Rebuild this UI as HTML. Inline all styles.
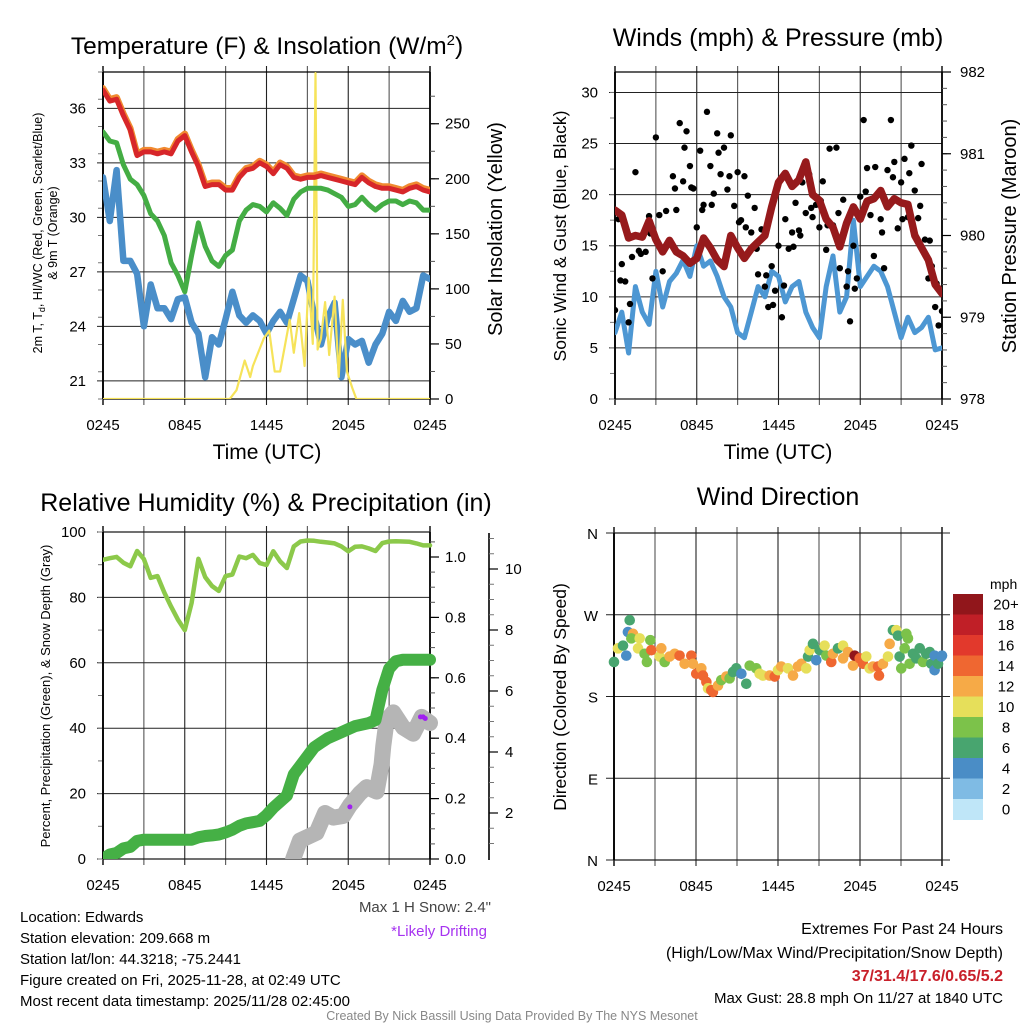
<!DOCTYPE html>
<html><head><meta charset="utf-8"><title>Mesonet station chart</title>
<style>
html,body{margin:0;padding:0;background:#fff;}
svg{display:block;font-family:"Liberation Sans",Arial,sans-serif;}
</style></head>
<body>
<svg id="fig" width="1024" height="1024" viewBox="0 0 1024 1024" xmlns="http://www.w3.org/2000/svg">
<rect width="1024" height="1024" fill="#fff"/>
<defs>
<clipPath id="c1"><rect x="103" y="72" width="327" height="327"/></clipPath>
<clipPath id="c2"><rect x="615" y="72" width="327" height="327"/></clipPath>
<clipPath id="c3"><rect x="103" y="532" width="340" height="327"/></clipPath>
</defs>
<text x="267" y="54" font-size="24.5" text-anchor="middle">Temperature (F) &amp; Insolation (W/m<tspan dy="-9" font-size="15">2</tspan><tspan dy="9">)</tspan></text>
<text x="778" y="46" font-size="25" text-anchor="middle">Winds (mph) &amp; Pressure (mb)</text>
<text x="266" y="511" font-size="25" text-anchor="middle">Relative Humidity (%) &amp; Precipitation (in)</text>
<text x="778" y="505" font-size="25" text-anchor="middle">Wind Direction</text>

<g font-size="12.5">
<text transform="translate(42,233) rotate(-90)" text-anchor="middle">2m T, T<tspan font-size="9" dy="3">d</tspan><tspan dy="-3">, HI/WC (Red, Green, Scarlet/Blue)</tspan></text>
<text transform="translate(57,233) rotate(-90)" text-anchor="middle">&amp; 9m T (Orange)</text>
</g>
<text transform="translate(502,229) rotate(-90)" font-size="20" text-anchor="middle">Solar Insolation (Yellow)</text>
<text transform="translate(566,236) rotate(-90)" font-size="17.5" text-anchor="middle">Sonic Wind &amp; Gust (Blue, Black)</text>
<text transform="translate(1016,236) rotate(-90)" font-size="20" text-anchor="middle">Station Pressure (Maroon)</text>
<text transform="translate(50,696) rotate(-90)" font-size="13" text-anchor="middle">Percent, Precipitation (Green), &amp; Snow Depth (Gray)</text>
<text transform="translate(566,697) rotate(-90)" font-size="17.5" text-anchor="middle">Direction (Colored By Speed)</text>
<text x="267" y="459" font-size="21" text-anchor="middle">Time (UTC)</text>
<text x="778" y="459" font-size="21" text-anchor="middle">Time (UTC)</text>

<g font-size="15">
<text x="20" y="922">Location: Edwards</text>
<text x="20" y="943">Station elevation: 209.668 m</text>
<text x="20" y="964">Station lat/lon: 44.3218; -75.2441</text>
<text x="20" y="985">Figure created on Fri, 2025-11-28, at 02:49 UTC</text>
<text x="20" y="1006">Most recent data timestamp: 2025/11/28 02:45:00</text>
</g>
<text x="491" y="912" font-size="15" fill="#444" text-anchor="end">Max 1 H Snow: 2.4"</text>
<text x="487" y="936" font-size="15" fill="#a633f0" text-anchor="end">*Likely Drifting</text>
<g font-size="16" text-anchor="end">
<text x="1003" y="934">Extremes For Past 24 Hours</text>
<text x="1003" y="958">(High/Low/Max Wind/Precipitation/Snow Depth)</text>
<text x="1003" y="981" font-weight="bold" fill="#c8202a">37/31.4/17.6/0.65/5.2</text>
<text x="1003" y="1003" font-size="15">Max Gust: 28.8 mph On 11/27 at 1840 UTC</text>
</g>
<text x="512" y="1020" font-size="12.5" fill="#888" text-anchor="middle">Created By Nick Bassill Using Data Provided By The NYS Mesonet</text>
<g id="layer"></g>
</svg>
<script>
const hours = [0,0.5,1,1.5,2,2.5,3,3.5,4,4.5,5,5.5,6,6.5,7,7.5,8,8.5,9,9.5,10,10.5,11,11.5,12,12.5,13,13.5,14,14.5,15,15.5,16,16.5,17,17.5,18,18.5,19,19.5,20,20.5,21,21.5,22,22.5,23,23.5,24];
const timeLabels = ["0245","0845","1445","2045","0245"];
const tempTicks = [21,24,27,30,33,36];
const solarTicks = [0,50,100,150,200,250];
const windTicks = [0,5,10,15,20,25,30];
const pressTicks = [978,979,980,981,982];
const rhTicks = [0,20,40,60,80,100];
const precipTicks = [0.0,0.2,0.4,0.6,0.8,1.0];
const snowTicks = [2,4,6,8,10];
const dirTicks = ["N","E","S","W","N"];
const dirTickDeg = [0,90,180,270,360];
const airTemp = [37.0,36.4,36.5,35.6,34.8,33.4,33.6,33.6,33.5,33.6,33.5,34.2,34.5,33.6,32.8,31.7,31.8,31.8,31.5,31.5,32.2,32.6,32.7,33.0,32.8,32.4,32.9,32.7,32.2,32.1,32.2,32.2,32.3,32.2,32.1,32.0,31.9,31.8,32.2,31.9,31.7,31.6,31.6,31.5,31.4,31.6,31.7,31.5,31.4];
const temp9m = [37.1,36.5,36.6,35.7,34.9,33.5,33.7,33.7,33.6,33.7,33.6,34.3,34.6,33.7,32.9,31.8,31.9,31.9,31.6,31.6,32.3,32.7,32.8,33.1,32.9,32.5,33.0,32.8,32.3,32.2,32.3,32.3,32.4,32.3,32.2,32.1,32.0,31.9,32.3,32.0,31.8,31.7,31.7,31.6,31.5,31.7,31.8,31.6,31.5];
const dewPoint = [34.7,34.2,34.1,32.9,32.1,31.8,31.2,30.2,29.8,29.0,27.5,26.8,25.9,27.9,29.7,28.4,27.6,27.3,27.9,28.2,29.8,30.4,30.7,30.6,30.3,30.8,30.5,30.1,31.0,31.4,31.6,31.6,31.6,31.5,31.3,31.1,30.6,30.7,31.1,30.7,30.4,30.7,30.9,30.9,30.7,30.9,30.8,30.4,30.4];
const windChill = [32.2,29.8,32.6,27.6,27.6,26.9,24.0,26.3,25.0,25.0,24.4,25.5,25.6,24.2,23.6,21.2,23.4,23.0,24.4,25.9,24.6,24.2,24.6,24.3,23.6,24.3,24.8,24.2,25.5,26.8,26.5,24.6,23.0,24.5,25.3,21.2,23.3,23.0,23.2,22.0,23.0,23.6,24.8,24.3,25.4,24.8,25.0,26.8,26.6];
const solarHours = [0,9.3,9.8,10.4,10.8,11.0,11.8,12.2,12.6,13.0,13.3,13.7,14.0,14.4,14.8,15.1,15.4,15.6,15.75,16.0,16.3,16.6,17.0,17.3,17.6,17.9,18.3,18.6,24];
const solarVals = [0,0,8,35,20,30,55,62,25,25,45,72,42,78,30,110,50,296,45,55,88,40,93,20,90,25,10,0,0];
const windSpeed = [6.5,8.5,4.5,11.0,8.5,7.3,12.5,9.0,11.5,12.3,13.6,12.0,15.0,13.0,13.5,12.0,10.0,9.0,6.5,6.0,8.5,11.0,10.0,12.5,12.0,9.5,11.0,11.5,8.5,7.0,6.0,11.0,14.0,8.5,10.0,17.5,11.0,12.0,13.0,12.5,11.0,8.5,6.0,8.0,6.5,7.0,8.0,4.8,5.0];
const pressure = [980.31,980.25,979.97,980.0,979.98,980.18,979.95,979.8,979.94,979.8,979.75,979.66,979.72,979.97,979.85,979.7,979.62,980.0,979.85,979.72,979.84,979.92,980.0,980.35,980.65,980.76,980.6,980.68,980.9,980.5,980.43,980.2,980.1,979.86,980.15,980.35,980.2,980.42,980.45,980.55,980.35,980.45,980.4,980.38,980.0,979.85,979.7,979.4,979.29];
const gustHours = [0,0.25,0.5,0.75,1,1.25,1.5,1.75,2,2.25,2.5,2.75,3,3.25,3.5,3.75,4,4.25,4.5,4.75,5,5.25,5.5,5.75,6,6.25,6.5,6.75,7,7.25,7.5,7.75,8,8.25,8.5,8.75,9,9.25,9.5,9.75,10,10.25,10.5,10.75,11,11.25,11.5,11.75,12,12.25,12.5,12.75,13,13.25,13.5,13.75,14,14.25,14.5,14.75,15,15.25,15.5,15.75,16,16.25,16.5,16.75,17,17.25,17.5,17.75,18,18.25,18.5,18.75,19,19.25,19.5,19.75,20,20.25,20.5,20.75,21,21.25,21.5,21.75,22,22.25,22.5,22.75,23,23.25,23.5,23.75,24];
const gustVals = [8.7,17.6,13.2,11.5,7.5,13.9,22.2,14.5,16,14.4,17.9,11.8,25.6,18,12.5,18.4,15.3,21.8,18.5,27,21.3,26.2,22.8,20.6,16.8,24.3,19,28.1,22.8,20.1,26,22,24.6,20.5,25.8,18.9,22.2,17.5,21.8,19.9,16.3,18.7,12.2,16.6,11,9,13,10.6,15,8,17.6,14.7,16.3,19.2,16.5,21.2,18.2,22,17.8,19,16.8,21.3,14.6,24.5,17,24.6,12.8,19.5,11,7.6,15,11.8,19.8,27.3,22.6,18,14,20,17.6,12.8,22.4,27.3,23.2,16.7,21.2,23.5,17.8,24.8,20.4,17.7,23,15.6,11.8,13,9,7.2,8.6];
const gustHours2 = [0.4,1.1,1.9,2.6,3.6,4.4,5.1,5.6,6.4,7.1,7.6,8.4,9.1,9.6,10.4,11.1,11.6,12.4,13.1,13.6,14.4,15.1,15.6,16.4,17.1,17.6,18.4,19.1,19.6,20.4,21.1,21.6,22.4,23.1,23.6];
const gustVals2 = [11.6,9.3,14.2,16.2,14.6,20.6,24.6,20.7,18.5,19.0,24.1,21.8,17.3,16.8,14.7,12.1,9.2,11.1,14.9,16.0,18.7,19.4,17.0,18.2,12.5,10.8,20.3,22.7,16.3,21.7,17.6,22.1,18.9,15.5,11.3];
const rh = [91.5,92,92.4,90.6,89.5,94.2,91.7,86.0,86.5,81.5,77.2,73.2,70.0,78.3,91.8,86.2,83.5,82.0,86.5,87.0,92.5,92.0,93.0,90.5,89.9,94.1,91.0,89.0,95.6,97.1,97.4,97.3,97.0,96.8,96.5,95.6,94.1,95.5,95.6,95.0,94.2,96.6,97.1,97.2,97.1,97.0,96.5,95.9,95.9];
const precip = [0,0.015,0.02,0.035,0.04,0.06,0.064,0.064,0.064,0.064,0.064,0.064,0.064,0.064,0.072,0.076,0.078,0.081,0.088,0.097,0.11,0.118,0.122,0.126,0.145,0.17,0.19,0.21,0.28,0.31,0.34,0.37,0.385,0.40,0.41,0.42,0.43,0.44,0.445,0.45,0.46,0.56,0.63,0.655,0.66,0.66,0.66,0.66,0.66];
const snowHours = [13.96,14.45,14.94,15.67,16.29,16.9,17.63,18.12,18.86,19.35,20.08,20.45,20.57,20.82,21.31,22.04,22.77,23.39,24.0];
const snowDepth = [0.5,1.1,1.2,1.35,2.0,1.85,1.9,2.25,2.65,2.85,2.7,3.6,4.2,5.05,5.3,4.8,4.6,5.15,4.95];
const driftHours = [18.12,23.3,23.5,23.65];
const driftDepth = [2.2,5.15,5.15,5.1];
const dirHours = [0,0.29,0.66,0.9,1.02,1.15,1.39,1.27,1.88,1.76,2.24,2.41,2.66,2.73,3.34,3.46,3.71,4.07,4.44,4.8,5.17,5.66,5.78,6.02,6.39,6.51,6.76,6.88,7.12,7.24,7.61,7.85,8.22,8.46,8.71,8.95,9.32,9.68,9.93,10.41,10.66,10.9,11.39,11.76,12.0,12.24,12.73,13.1,13.46,13.71,14.07,14.2,14.32,14.56,14.8,15.05,15.41,15.54,15.9,16.02,16.39,16.76,16.76,17.12,17.49,17.61,17.98,18.22,18.46,18.71,18.95,19.32,19.39,19.68,20.05,20.17,20.41,20.66,20.78,20.9,21.02,21.39,21.51,21.27,21.63,21.88,22.12,22.37,22.61,22.85,23.1,23.22,23.46,23.46,23.71,23.95,24];
const dirDeg = [218,233,236,225,251,264,249,244,244,233,227,218,242,231,224,233,218,224,227,225,216,225,216,205,211,203,196,189,187,185,192,198,202,200,207,211,205,194,214,211,205,203,203,202,209,213,211,203,213,216,211,224,231,238,220,231,236,225,218,227,233,236,222,229,214,225,222,216,224,211,213,213,203,216,224,238,253,253,247,224,211,249,244,233,216,227,222,233,218,227,229,216,225,209,216,224,225];
const dirSpeed = [6,10,6,4,4,6,12,8,10,10,8,8,8,14,10,12,8,12,12,14,12,14,12,14,12,14,14,10,14,14,12,8,12,8,6,6,4,6,8,8,10,10,12,14,10,12,10,12,12,12,10,6,10,6,4,6,10,8,14,12,6,10,12,12,12,20,14,14,10,10,12,14,14,12,10,12,6,10,6,6,8,8,8,8,8,6,6,6,8,6,6,6,4,4,6,4,4];
const speedBins = ["0","2","4","6","8","10","12","14","16","18","20+"];
const speedColors = ["#bfe6f8","#7fbbe4","#4a8dc6","#48a56f","#7cc24a","#e6df5a","#f6aa47","#ef6731","#e2392c","#c01f27","#91161b"];

const NS = "http://www.w3.org/2000/svg";
const layer = document.getElementById('layer');
function mk(tag, attrs, parent){const e=document.createElementNS(NS,tag);for(const k in attrs)e.setAttribute(k,attrs[k]);(parent||layer).appendChild(e);return e;}
function lin(d0,d1,r0,r1){return v=>r0+(v-d0)*(r1-r0)/(d1-d0);}
function pathD(xs,ys,fx,fy){let d='';for(let i=0;i<xs.length;i++){d+=(i?'L':'M')+fx(xs[i]).toFixed(1)+','+fy(ys[i]).toFixed(1);}return d;}

function frame(x0,y0,x1,y1,name){
  const g=mk('g',{});
  
  
  const fx=lin(0,24,x0,x1);
  for(let h=0;h<=24;h+=3){
    const l=mk('line',{x1:fx(h),x2:fx(h),y1:y0-6,y2:y1+6,stroke:(h%6? '#555':'#222'),'stroke-width':(h===0||h===24)?1.6:1.1},g);
    
    
  }
  timeLabels.forEach((t,i)=>{
    const tx=mk('text',{x:fx(i*6),y:y1+31,'font-size':15,'text-anchor':'middle'},g);tx.textContent=t;
    
    
  });
  mk('line',{x1:x0,x2:x1,y1:y0,y2:y0,stroke:'#000','stroke-width':1.2},g);
  mk('line',{x1:x0,x2:x1,y1:y1,y2:y1,stroke:'#000','stroke-width':1.2},g);
  return fx;
}
function hgrid(vals,fy,x0,x1,lab,lx){
  vals.forEach(v=>{
    const l=mk('line',{x1:x0-6,x2:x1,y1:fy(v),y2:fy(v),stroke:'#222','stroke-width':1});
    
    
    if(lab){const t=mk('text',{x:lx,y:fy(v)+5,'font-size':15,'text-anchor':'end'});t.textContent=v;
      
      }
  });
}
function rightAxis(vals,fy,ax,lx,fmt,y0,y1,minorStep,dmin,dmax){
  mk('line',{x1:ax,x2:ax,y1:y0,y2:y1,stroke:'#000','stroke-width':1.6});
  for(let v=dmin; v<=dmax+1e-9; v+=minorStep){const y=fy(v); if(y>=y0-0.5&&y<=y1+0.5) mk('line',{x1:ax,x2:ax+5,y1:y,y2:y,stroke:'#555','stroke-width':1});}
  vals.forEach(v=>{
    mk('line',{x1:ax,x2:ax+9,y1:fy(v),y2:fy(v),stroke:'#000','stroke-width':1.2});
    const t=mk('text',{x:lx,y:fy(v)+5,'font-size':15});t.textContent=fmt(v);
    
    
  });
}
function leftMinor(fy,x,dmin,dmax,step,y0,y1){for(let v=dmin;v<=dmax+1e-9;v+=step){const y=fy(v);if(y>=y0&&y<=y1)mk('line',{x1:x-5,x2:x,y1:y,y2:y,stroke:'#777','stroke-width':1});}}

/* ---------- Panel 1: temperature ---------- */
{
  const x0=103,x1=430,y0=72,y1=399;
  const fx=frame(x0,y0,x1,y1,'temperature-panel');
  const fy=lin(20,38,y1,y0), fs=lin(0,297,y1,y0);
  hgrid(tempTicks,fy,x0,x1,true,86);
  leftMinor(fy,x0,20,38,1.5,y0,y1);
  rightAxis(solarTicks,fs,x1,445,v=>v,y0,y1,25,0,297);
  mk('line',{x1:x0,x2:x0,y1:y0,y2:y1,stroke:'#000','stroke-width':1.8});
  const g=mk('g',{'clip-path':'url(#c1)',fill:'none','stroke-linejoin':'round','stroke-linecap':'round'});
  let p;
  p=mk('path',{d:pathD(hours,windChill,fx,fy),stroke:'#4a8ec9','stroke-width':6.5},g);
  
  
  p=mk('path',{d:pathD(solarHours,solarVals,fx,fs),stroke:'#f6e35a','stroke-width':2.2},g);
  
  
  p=mk('path',{d:pathD(hours,dewPoint,fx,fy),stroke:'#44ad44','stroke-width':5},g);
  
  
  p=mk('path',{d:pathD(hours,temp9m,fx,fy),stroke:'#f08a30','stroke-width':6.5},g);
  
  
  p=mk('path',{d:pathD(hours,airTemp,fx,fy),stroke:'#d7262a','stroke-width':5},g);
  
  
}
/* ---------- Panel 2: winds ---------- */
{
  const x0=615,x1=942,y0=72,y1=399;
  const fx=frame(x0,y0,x1,y1,'winds-panel');
  const fy=lin(0,32,y1,y0), fp=lin(978,982,y1,y0);
  hgrid(windTicks,fy,x0,x1,true,598);
  leftMinor(fy,x0,0,32,2.5,y0,y1);
  rightAxis(pressTicks,fp,x1,960,v=>v,y0,y1,0.2,978,982);
  mk('line',{x1:x0,x2:x0,y1:y0,y2:y1,stroke:'#000','stroke-width':1.8});
  const g=mk('g',{'clip-path':'url(#c2)',fill:'none','stroke-linejoin':'round','stroke-linecap':'round'});
  let p=mk('path',{d:pathD(hours,windSpeed,fx,fy),stroke:'#4d97d3','stroke-width':5},g);
  
  
  gustHours.forEach((h,i)=>{
    const c=mk('circle',{cx:fx(h),cy:fy(gustVals[i]),r:3.2,fill:'#000'},g);
    
    
  });
  gustHours2.forEach((h,i)=>{
    const c=mk('circle',{cx:fx(h),cy:fy(gustVals2[i]),r:3.2,fill:'#000'},g);
    
    
  });
  p=mk('path',{d:pathD(hours,pressure,fx,fp),stroke:'#961a1c','stroke-width':7.5},g);
  
  
}
/* ---------- Panel 3: humidity ---------- */
{
  const x0=103,x1=430,y0=532,y1=859;
  const fx=frame(x0,y0,x1,y1,'humidity-panel');
  const fy=lin(0,100,y1,y0), fpr=lin(0,1.0,y1,y1-302), fsn=lin(2,10,813,569);
  hgrid(rhTicks,fy,x0,x1,true,86);
  leftMinor(fy,x0,0,100,10,y0,y1);
  rightAxis(precipTicks,fpr,x1,445,v=>v.toFixed(1),y0,y1,0.05,0,1.08);
  mk('line',{x1:x0,x2:x0,y1:y0,y2:y1,stroke:'#000','stroke-width':1.8});
  mk('line',{x1:489,x2:489,y1:533,y2:860,stroke:'#000','stroke-width':1.6});
  for(let v=1;v<=11;v+=0.5){const y=fsn(v);if(y>=533&&y<=860)mk('line',{x1:489,x2:494,y1:y,y2:y,stroke:'#777','stroke-width':1});}
  snowTicks.forEach(v=>{mk('line',{x1:489,x2:498,y1:fsn(v),y2:fsn(v),stroke:'#000','stroke-width':1.2});
    const t=mk('text',{x:505,y:fsn(v)+5,'font-size':15});t.textContent=v;
    
    });
  const g=mk('g',{'clip-path':'url(#c3)',fill:'none','stroke-linejoin':'round','stroke-linecap':'round'});
  let p=mk('path',{d:pathD(snowHours,snowDepth,fx,fsn),stroke:'#b5b5b5','stroke-width':16},g);
  
  
  p=mk('path',{d:pathD(hours,precip,fx,fpr),stroke:'#45b045','stroke-width':12},g);
  
  
  p=mk('path',{d:pathD(hours,rh,fx,fy),stroke:'#8cc94a','stroke-width':4.5},g);
  
  
  driftHours.forEach((h,i)=>{
    const c=mk('circle',{cx:fx(h),cy:fsn(driftDepth[i]),r:2.5,fill:'#a020f0'},g);
    
    
  });
}
/* ---------- Panel 4: wind direction ---------- */
{
  const x0=614,x1=942,y0=533,y1=860;
  const fx=frame(x0,y0,x1,y1,'direction-panel');
  const fy=lin(0,360,y1,y0);
  dirTickDeg.forEach((d,i)=>{
    const l=mk('line',{x1:x0-8,x2:x1+8,y1:fy(d),y2:fy(d),stroke:'#222','stroke-width':1});
    
    
    const t=mk('text',{x:598,y:fy(d)+6,'font-size':15,'text-anchor':'end'});t.textContent=dirTicks[i];
    
    
  });
  mk('line',{x1:x0,x2:x0,y1:y0,y2:y1,stroke:'#000','stroke-width':1.8});
  dirHours.forEach((h,i)=>{
    const bin=Math.min(10,Math.floor(dirSpeed[i]/2));
    const c=mk('circle',{cx:fx(h),cy:fy(dirDeg[i]),r:5.3,fill:speedColors[bin]});
    
    
  });
  const cb=mk('g',{});
  
  
  const t0=mk('text',{x:990,y:589,'font-size':14},cb);t0.textContent='mph';
  const bh=20.5;
  speedBins.forEach((s,i)=>{
    const k=speedBins.length-1-i;
    mk('rect',{x:953,y:594+i*bh,width:30,height:bh+0.5,fill:speedColors[k]},cb);
    const t=mk('text',{x:1006,y:594+i*bh+bh/2+5,'font-size':15,'text-anchor':'middle'},cb);t.textContent=speedBins[k];
    
    
  });
}
</script>
</body></html>
